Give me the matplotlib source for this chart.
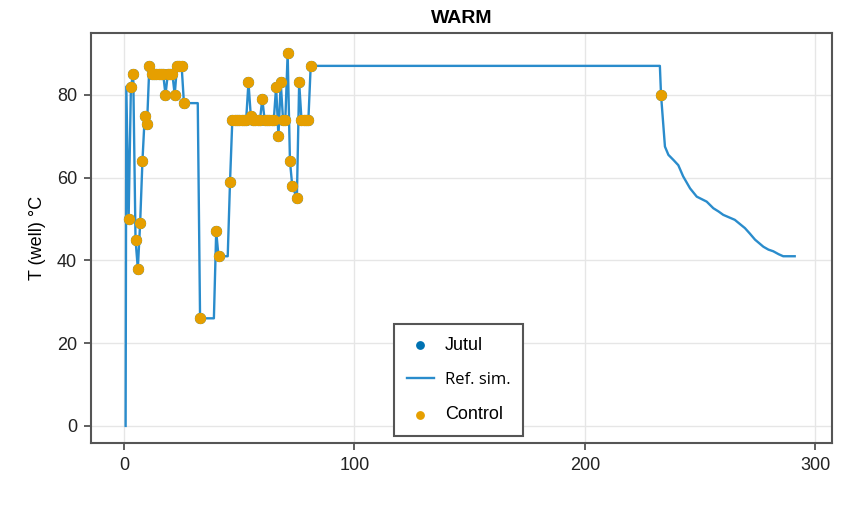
import matplotlib
matplotlib.use("Agg")
import matplotlib.pyplot as plt
from matplotlib.font_manager import FontProperties

# Control set-points (day, temperature in degC)
control_day = [2, 3, 4, 5, 6, 7, 8, 9, 10, 11,
               12, 13, 14, 15, 16, 17, 18, 19, 20, 21, 22, 23, 24, 25, 26,
               33, 40, 41, 46,
               47, 48, 49, 50, 51, 52, 53, 54, 55, 56, 57, 58, 59, 60,
               61, 62, 63, 64, 65, 66, 67, 68, 69, 70, 71, 72, 73, 75, 76,
               77, 78, 79, 80, 81, 233]
control_T = [50, 82, 85, 45, 38, 49, 64, 75, 73, 87,
             85, 85, 85, 85, 85, 85, 80, 85, 85, 85, 80, 87, 87, 87, 78,
             26, 47, 41, 59,
             74, 74, 74, 74, 74, 74, 74, 83, 75, 74, 74, 74, 74, 79,
             74, 74, 74, 74, 74, 82, 70, 83, 74, 74, 90, 64, 58, 55, 83,
             74, 74, 74, 74, 87, 80]

# Jutul results (coincide with the control points, drawn underneath)
jutul_day = control_day
jutul_T = control_T

# Reference simulation
ref_day = ([0.7, 1.0] + control_day[:25] + [32, 33, 39, 40, 41, 45, 46]
           + control_day[29:-1]
           + [232.5, 233, 234.7, 236.2, 238.5, 240.5, 242.6, 245.6, 248.5,
              252.8, 255.7, 258.0, 260, 262.5, 265, 267.2, 269.4, 271.5,
              273.8, 275.5, 277.4, 279.6, 281.7, 284, 286, 291])
ref_T = ([0, 82] + control_T[:25] + [78, 26, 26, 47, 41, 41, 59]
         + control_T[29:-1]
         + [87, 80, 67.5, 65.5, 64.2, 63, 60.3, 57.4, 55.4,
            54.2, 52.6, 51.8, 51, 50.4, 49.8, 48.8, 47.8, 46.5,
            45, 44.2, 43.3, 42.6, 42.2, 41.5, 41, 41])

plt.rcParams['font.family'] = ['Liberation Sans', 'DejaVu Sans']

fig = plt.figure(figsize=(8.43, 5.12), dpi=100)
ax = fig.add_axes([0.108, 0.135, 0.879, 0.801])

ax.scatter(jutul_day, jutul_T, s=50, color='#0072B2', label='Jutul', zorder=2)
ax.plot(ref_day, ref_T, color='#2a8ccc', lw=1.7, label='Ref. sim.', zorder=3)
ax.scatter(control_day, control_T, s=50, color='#E69F00', label='Control',
           zorder=4)

ax.set_xlim(-14.3, 307.2)
ax.set_ylim(-4.1, 95)
ax.set_xticks([0, 100, 200, 300])
ax.set_yticks([0, 20, 40, 60, 80])
ax.grid(True, color='#e6e6e6', lw=1)
ax.set_axisbelow(True)
ax.tick_params(labelsize=13, length=5, width=1.2, color='#444444',
               labelcolor='#222222', pad=5)
for sp in ax.spines.values():
    sp.set_color('#555555')
    sp.set_linewidth(1.5)

ax.set_title('WARM', fontsize=14, fontweight='bold', pad=7)
ax.set_ylabel('T (well) °C', fontsize=13, labelpad=8)

leg = ax.legend(loc='lower center', bbox_to_anchor=(0.496, 0.017),
                borderaxespad=0, fontsize=13, labelspacing=1.0,
                handlelength=1.5, handletextpad=0.6, borderpad=0.7,
                fancybox=False, framealpha=1, edgecolor='#555555',
                markerscale=0.75)
leg.get_frame().set_linewidth(1.5)
leg.get_texts()[1].set_fontproperties(FontProperties(family='Open Sans', size=12))

fig.savefig('out.png', dpi=100)
